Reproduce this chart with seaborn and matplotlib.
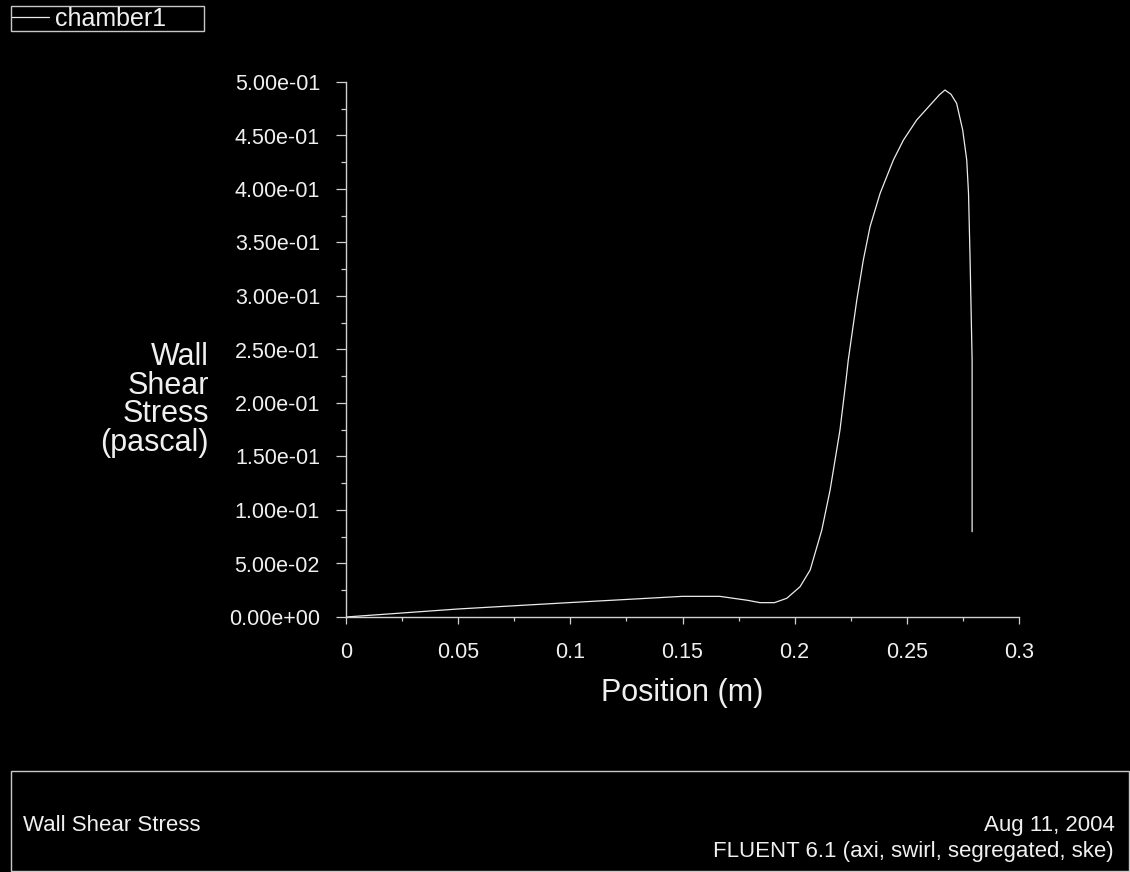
import matplotlib
matplotlib.use("Agg")
import matplotlib.pyplot as plt
import matplotlib.patches as mpatches
from matplotlib.ticker import MultipleLocator, FormatStrFormatter
import seaborn as sns
import pandas as pd

# ---- data ----
position = [0.0, 0.05, 0.1, 0.15, 0.1666, 0.179, 0.1846, 0.191, 0.1965,
            0.2024, 0.2069, 0.2121, 0.2158, 0.2202, 0.2229, 0.2239, 0.2277,
            0.2306, 0.2336, 0.2381, 0.2440, 0.2485, 0.2544, 0.2604, 0.2645,
            0.2670, 0.2697, 0.2722, 0.2749, 0.2767, 0.2775, 0.2782, 0.2791,
            0.2791]
wall_shear = [0.0, 0.0075, 0.0135, 0.0193, 0.0193, 0.0156, 0.0134, 0.0134,
              0.0175, 0.0283, 0.0439, 0.0813, 0.1187, 0.1748, 0.2215, 0.2402,
              0.2963, 0.3336, 0.3648, 0.396, 0.4271, 0.4458, 0.4645, 0.4785,
              0.4880, 0.4925, 0.4885, 0.480, 0.4551, 0.4271, 0.396, 0.3336,
              0.240, 0.0797]
series_name = "chamber1"
x_label = "Position (m)"
y_label = "Wall\nShear\nStress\n(pascal)"
footer_left = "Wall Shear Stress"
footer_right = ["Aug 11, 2004", "FLUENT 6.1 (axi, swirl, segregated, ske)"]

df = pd.DataFrame({"Position": position, "Stress": wall_shear,
                   "zone": [series_name] * len(position)})

sns.set_theme(style="ticks")
plt.rcParams["font.family"] = ["Liberation Sans", "DejaVu Sans"]
plt.rcParams["figure.facecolor"] = "black"
plt.rcParams["axes.facecolor"] = "black"

W, H = 1130, 872
fig = plt.figure(figsize=(W / 100, H / 100), dpi=100, facecolor="black")
ax = fig.add_axes([346 / W, 1 - 617 / H, (1019 - 346) / W, (617 - 82) / H])
ax.set_facecolor("black")

axis_col = "#d0d0d0"
text_col = "#f0f0f0"

sns.lineplot(data=df, x="Position", y="Stress", hue="zone",
             palette=["#ececec"], estimator=None, sort=False,
             linewidth=0.9, ax=ax, legend=False)

ax.set_xlim(0, 0.3)
ax.set_ylim(0, 0.5)
for s in ["top", "right"]:
    ax.spines[s].set_visible(False)
for s in ["left", "bottom"]:
    ax.spines[s].set_color(axis_col)
    ax.spines[s].set_linewidth(1.0)

ax.xaxis.set_major_locator(MultipleLocator(0.05))
ax.xaxis.set_minor_locator(MultipleLocator(0.025))
ax.yaxis.set_major_locator(MultipleLocator(0.05))
ax.yaxis.set_minor_locator(MultipleLocator(0.025))
ax.yaxis.set_major_formatter(FormatStrFormatter("%.2e"))
ax.xaxis.set_major_formatter(plt.FuncFormatter(lambda v, p: f"{v:g}"))

ax.tick_params(axis="y", which="major", length=7.2, width=0.9,
               color=axis_col, labelcolor=text_col, labelsize=15.5, pad=11.5)
ax.tick_params(axis="y", which="minor", length=3.6, width=0.9, color=axis_col)
ax.tick_params(axis="x", which="major", length=5, width=0.9,
               color=axis_col, labelcolor=text_col, labelsize=15.5, pad=13)
ax.tick_params(axis="x", which="minor", length=2.9, width=0.9, color=axis_col)

ax.set_xlabel(x_label, fontsize=22, color=text_col, va="top")
ax.xaxis.set_label_coords(0.5, -0.114)
ax.set_ylabel(y_label, fontsize=22, color=text_col, rotation=0,
              ha="right", va="center", multialignment="right",
              linespacing=0.95)
ax.yaxis.set_label_coords((209 - 346) / 673, (617 - 400) / 535)
ax.grid(False)

# legend at top-left
handle = plt.Line2D([], [], color="#ececec", linewidth=0.9)
leg = fig.legend([handle], [series_name], loc="upper left",
                 bbox_to_anchor=(11 / W, 1 - 31 / H, (204 - 11) / W, 25 / H),
                 mode="expand", borderaxespad=0, borderpad=0.02,
                 handlelength=1.5, handletextpad=0.25, fontsize=18,
                 frameon=True, fancybox=False, framealpha=1,
                 facecolor="black", edgecolor="#c8c8c8",
                 labelcolor=text_col)
leg.get_frame().set_linewidth(1.0)

# footer box
rect = mpatches.Rectangle((11 / W, 1 - 871 / H), (1129 - 11) / W,
                          (871 - 771) / H, transform=fig.transFigure,
                          fill=False, edgecolor="#c8c8c8", linewidth=1.0)
fig.add_artist(rect)
fig.text(23 / W, 1 - 831 / H, footer_left, color=text_col, fontsize=16,
         ha="left", va="baseline")
fig.text(1115 / W, 1 - 831 / H, footer_right[0], color=text_col,
         fontsize=16, ha="right", va="baseline")
fig.text(1114 / W, 1 - 857 / H, footer_right[1], color=text_col,
         fontsize=16, ha="right", va="baseline")

fig.savefig("out.png", dpi=100, facecolor="black")
